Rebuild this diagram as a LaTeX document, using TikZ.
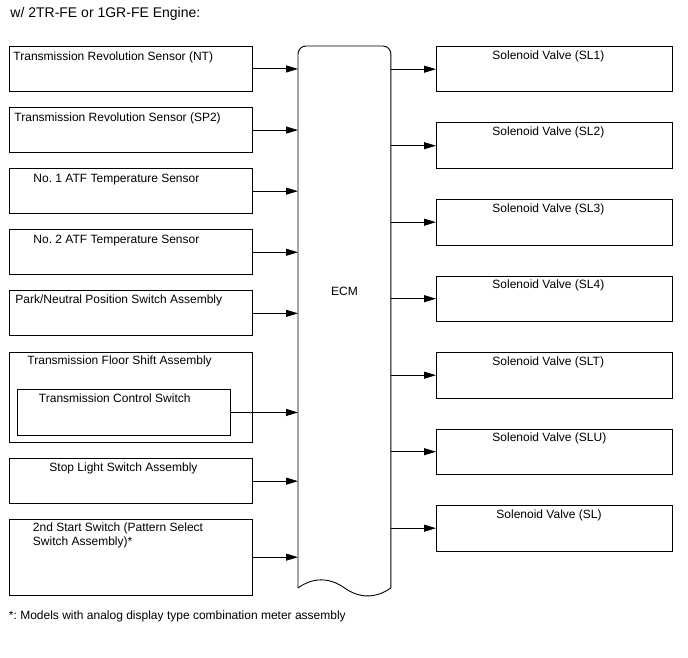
\documentclass[tikz,border=0pt]{standalone}
\usepackage{fontspec}
\setmainfont{Liberation Sans}
\usetikzlibrary{arrows.meta,positioning}

\begin{document}
\frenchspacing
\begin{tikzpicture}[
    x=1pt, y=-1pt,
    font=\fontsize{12}{14}\selectfont,
    line width=0.9pt,
    unit/.style={draw, rectangle, inner sep=0pt,
                 minimum width=243pt, minimum height=45pt},
    valve/.style={draw, rectangle, inner sep=0pt,
                  minimum width=236pt, minimum height=45.5pt},
    tag/.style={anchor=base west, inner sep=0pt},
    sig/.style={-{Triangle[length=12pt,width=7pt]}},
  ]
\useasboundingbox (0,0) rectangle (688,658);

\node[tag, font=\fontsize{14}{16}\selectfont] (title) at (10,18) {w/ 2TR-FE or 1GR-FE Engine:};

% inputs
\node[unit, anchor=north west] (nt) at (9,46) {};
\node[unit, below=15.2pt of nt] (sp2) {};
\node[unit, below=15.2pt of sp2] (atf1) {};
\node[unit, below=15.2pt of atf1] (atf2) {};
\node[unit, below=15.2pt of atf2] (pnp) {};
\node[unit, below=15.2pt of pnp, minimum height=90pt] (floor) {};
\node[draw, inner sep=0pt, minimum width=213.5pt, minimum height=46pt,
      anchor=north west] (tcs) at (16.5,389) {};
\node[unit, below=15.8pt of floor] (stop) {};
\node[unit, below=14.6pt of stop, minimum height=76pt] (start) {};

\node[tag] (nt-t) at ([xshift=4pt,yshift=-14.5pt]nt.north west) {Transmission Revolution Sensor (NT)};
\node[tag] (sp2-t) at ([xshift=5pt,yshift=-14.5pt]sp2.north west) {Transmission Revolution Sensor (SP2)};
\node[tag] (atf1-t) at ([xshift=24pt,yshift=-14pt]atf1.north west) {No. 1 ATF Temperature Sensor};
\node[tag] (atf2-t) at ([xshift=24pt,yshift=-14pt]atf2.north west) {No. 2 ATF Temperature Sensor};
\node[tag] (pnp-t) at ([xshift=6pt,yshift=-13.5pt]pnp.north west) {Park/Neutral Position Switch Assembly};
\node[tag] (floor-t) at ([xshift=18pt,yshift=-13pt]floor.north west) {Transmission Floor Shift Assembly};
\node[tag] (tcs-t) at ([xshift=22pt,yshift=-13pt]tcs.north west) {Transmission Control Switch};
\node[tag] (stop-t) at ([xshift=40pt,yshift=-13pt]stop.north west) {Stop Light Switch Assembly};
\node[tag, align=left] (start-t) at ([xshift=23.5pt,yshift=-26.5pt]start.north west)
  {2nd Start Switch (Pattern Select\\Switch Assembly)*};

% ECM
\node[inner sep=0pt, minimum width=92pt, minimum height=541pt, anchor=north west] (ecm) at (298,46) {};
\node[anchor=base] (ecm-t) at ([yshift=21.5pt]ecm.center) {ECM};
\draw[rounded corners=8pt] (ecm.south west) -- (ecm.north west) -- (ecm.north east) -- (ecm.south east);
\draw (ecm.south west) .. controls +(15,-10.7) and +(-15,-10.7) .. (ecm.south)
      .. controls +(15,10.7) and +(-15,10.7) .. (ecm.south east);

% outputs
\node[valve, anchor=north west] (sl1) at (436,46) {};
\node[valve, below=30.1pt of sl1] (sl2) {};
\node[valve, below=30.1pt of sl2] (sl3) {};
\node[valve, below=30.1pt of sl3] (sl4) {};
\node[valve, below=30.1pt of sl4] (slt) {};
\node[valve, below=30.1pt of slt] (slu) {};
\node[valve, below=30.1pt of slu] (sl) {};

\foreach \v/\s in {sl1/SL1, sl2/SL2, sl3/SL3, sl4/SL4, slt/SLT, slu/SLU}
  \node[tag] (\v-t) at ([xshift=56pt,yshift=-13.3pt]\v.north west) {Solenoid Valve (\s)};
\node[tag] (sl-t) at ([xshift=60pt,yshift=-13.3pt]sl.north west) {Solenoid Valve (SL)};

% signals
\foreach \n in {nt,sp2,atf1,atf2,pnp,tcs,stop,start}
  \draw[sig] (\n.east) -- (\n.east -| ecm.west);
\foreach \v in {sl1,sl2,sl3,sl4,slt,slu,sl}
  \draw[sig] (ecm.east |- \v.west) -- (\v.west);

\node[tag] (note) at (8.5,619) {*: Models with analog display type combination meter assembly};

\end{tikzpicture}
\end{document}
